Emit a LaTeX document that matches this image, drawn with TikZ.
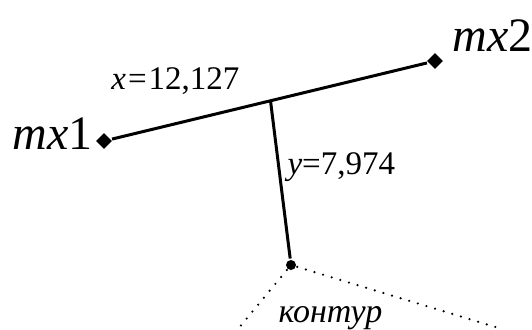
\documentclass[tikz,border=0pt]{standalone}
\usepackage{fontspec}
\setmainfont{Liberation Serif}
\newfontfamily\timesfont{Liberation Serif}
\usetikzlibrary{calc,shapes.geometric}

\begin{document}
\begin{tikzpicture}[x=0.5pt,y=-0.5pt,line width=1.5pt,
                    corner/.style={diamond,fill,inner sep=0pt,minimum size=8.5pt},
                    tip/.style={circle,fill,inner sep=0pt,minimum size=5pt},
                    lbl/.style={anchor=base west,inner sep=0pt,
                                font=\timesfont\fontsize{16.5}{20}\selectfont},
                    biglbl/.style={anchor=base west,inner sep=0pt,
                                font=\timesfont\fontsize{24}{28}\selectfont},
                    contour/.style={line width=1.2pt,line cap=round,
                                dash pattern=on 0pt off 4.5pt}]
  \useasboundingbox (0,0) rectangle (532,329);
  % end points of the base line and the measured point
  \node[corner] (mxone) at (104,141) {};
  \node[corner] (mxtwo) at (435,61) {};
  \coordinate (foot) at ($(mxone)!0.503!(mxtwo)$);
  \node[tip] (kpt) at (291,265) {};
  \coordinate (kleft) at (238,329);
  \coordinate (kright) at (502,329);

  \draw (mxone) -- (mxtwo);
  \draw (foot) -- (kpt);
  \draw[contour] (kpt) -- (kleft);
  \draw[contour] (kpt) -- (kright);

  \node[biglbl] (lblone) at (11,149) {\textit{mx}1};
  \node[biglbl] (lbltwo) at (451,51) {\textit{mx}2};
  \node[lbl] (lblx) at (110,89) {\textit{x}\kern1pt=\kern1pt12,127};
  \node[lbl] (lbly) at (286,174) {\textit{y}=7,974};
  \node[lbl,font=\timesfont\fontsize{17}{20}\selectfont]
    (lblk) at (277,322) {\textit{контур}};
\end{tikzpicture}
\end{document}
